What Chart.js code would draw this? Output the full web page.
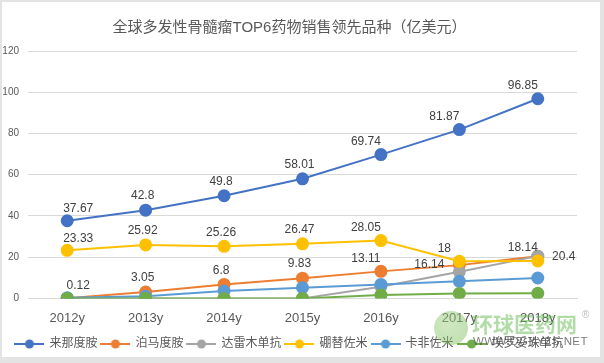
<!DOCTYPE html>
<html>
<head>
<meta charset="utf-8">
<script src="https://cdn.jsdelivr.net/npm/chart.js@4/dist/chart.umd.min.js"></script>
<style>
    html, body { margin: 0; padding: 0; background: #e3e3e3; }
    #frame {
        position: relative;
        width: 604px; height: 363px;
        box-sizing: border-box;
        border-left: 2px solid #e3e3e3;
        border-top: 2px solid #e3e3e3;
        border-right: 4px solid #e3e3e3;
        border-bottom: 6px solid #e3e3e3;
        background: #fff;
    }
    #chart { display: block; }
    .wm-globe {
        position: absolute; left: 432px; top: 309px; width: 34px; height: 34px;
        border-radius: 50%;
        background: radial-gradient(circle at 40% 40%, rgba(160,210,130,0.5), rgba(110,180,80,0.45));
    }
    .wm-cn {
        position: absolute; left: 470px; top: 306px;
        font: bold 21px 'Noto Sans CJK SC', sans-serif; color: rgba(100,185,80,0.5);
    }
    .wm-r { position: absolute; left: 580px; top: 307px; font: 10px 'Liberation Sans'; color: rgba(120,120,120,0.5); }
    .wm-url {
        position: absolute; left: 471px; top: 333px;
        font: 11.5px 'Liberation Sans', sans-serif; color: rgba(80,80,80,0.75); letter-spacing: 0.4px;
    }
</style>
</head>
<body>
<div id="frame">
    <canvas id="chart" width="598" height="355"></canvas>
    <div class="wm-globe"></div>
    <div class="wm-cn">环球医药网</div>
    <div class="wm-r">®</div>
    <div class="wm-url">WWW.QGYYZS.NET</div>
</div>
<script>
// Данные графика
const years = ['2012y', '2013y', '2014y', '2015y', '2016y', '2017y', '2018y'];
const seriesNames = ['来那度胺', '泊马度胺', '达雷木单抗', '硼替佐米', '卡非佐米', '埃罗妥珠单抗'];

const lenalidomide = [37.67, 42.8, 49.8, 58.01, 69.74, 81.87, 96.85];
const pomalidomide = [0.12, 3.05, 6.8, 9.83, 13.11, 16.14, 20.4];
const daratumumab  = [0, 0, 0, 0, 5.7, 12.9, 20.5];
const bortezomib   = [23.33, 25.92, 25.26, 26.47, 28.05, 18, 18.14];
const carfilzomib  = [0.3, 1, 3.6, 5.2, 6.8, 8.3, 9.9];
const elotuzumab   = [0, 0, 0, 0, 1.6, 2.4, 2.5];

const yTicks = [0, 20, 40, 60, 80, 100, 120];

const colors = ['#4472C4', '#ED7D31', '#A5A5A5', '#FFC000', '#5B9BD5', '#70AD47'];

// Где рисовать подписи значений (null — без подписей)
const labelPlaces = [
    ['tr', 't', 't', 't', 'tl', 'tl', 'tl'],
    ['tr', 't', 't', 't', 'tl', 'l', 'r'],
    null,
    ['tr', 't', 't', 't', 'tl', 'tl', 'tl'],
    null,
    null
];

const labelOffsets = {
    t:  [-3, -14],
    tl: [-15, -13],
    tr: [11, -12],
    l:  [-30, 0],
    r:  [26, 0]
};

const FONT = "'Liberation Sans', 'Noto Sans CJK SC', sans-serif";

function legendMarker(color) {
    const c = document.createElement('canvas');
    c.width = 30;
    c.height = 12;
    const g = c.getContext('2d');
    g.strokeStyle = color;
    g.lineWidth = 2;
    g.beginPath();
    g.moveTo(0, 6);
    g.lineTo(30, 6);
    g.stroke();
    g.fillStyle = color;
    g.beginPath();
    g.arc(15, 6, 4.5, 0, Math.PI * 2);
    g.fill();
    return c;
}

const valueLabels = {
    id: 'valueLabels',
    afterDatasetsDraw(chart) {
        const ctx = chart.ctx;
        ctx.save();
        ctx.font = '12px ' + FONT;
        ctx.fillStyle = '#404040';
        ctx.textAlign = 'center';
        ctx.textBaseline = 'middle';
        chart.data.datasets.forEach((ds, i) => {
            const places = labelPlaces[i];
            if (!places) return;
            const meta = chart.getDatasetMeta(i);
            meta.data.forEach((pt, j) => {
                const off = labelOffsets[places[j]];
                ctx.fillText(String(ds.data[j]), pt.x + off[0], pt.y + off[1]);
            });
        });
        ctx.restore();
    }
};

const allSeries = [lenalidomide, pomalidomide, daratumumab, bortezomib, carfilzomib, elotuzumab];

const datasets = allSeries.map((values, i) => ({
    label: seriesNames[i],
    data: values,
    borderColor: colors[i],
    backgroundColor: colors[i],
    pointBackgroundColor: colors[i],
    pointBorderColor: colors[i],
    borderWidth: 2,
    pointRadius: 5.5,
    pointHoverRadius: 5.5,
    tension: 0,
    order: allSeries.length - i
}));

new Chart(document.getElementById('chart'), {
    type: 'line',
    data: { labels: years, datasets: datasets },
    plugins: [valueLabels],
    options: {
        responsive: false,
        animation: false,
        layout: { padding: { left: 0, right: 23, top: 0, bottom: -3 } },
        plugins: {
            title: {
                display: true,
                text: '全球多发性骨髓瘤TOP6药物销售领先品种（亿美元）',
                color: '#595959',
                font: { family: FONT, size: 15, weight: 'normal' },
                padding: { top: 17, bottom: 14 }
            },
            legend: {
                position: 'bottom',
                labels: {
                    usePointStyle: true,
                    pointStyleWidth: 28,
                    boxHeight: 12,
                    padding: 4,
                    color: '#595959',
                    font: { family: FONT, size: 12 },
                    generateLabels(chart) {
                        return chart.data.datasets.map((ds, i) => ({
                            text: ds.label,
                            pointStyle: legendMarker(colors[i]),
                            fillStyle: colors[i],
                            strokeStyle: colors[i],
                            lineWidth: 0,
                            fontColor: '#595959',
                            datasetIndex: i
                        }));
                    }
                }
            },
            tooltip: { enabled: false }
        },
        scales: {
            x: {
                offset: true,
                afterFit(scale) {
                    scale.height += 4;
                },
                grid: { display: false },
                border: { display: true, color: '#d9d9d9' },
                ticks: { color: '#595959', font: { family: FONT, size: 13 }, padding: 4 }
            },
            y: {
                min: 0,
                max: 120,
                afterBuildTicks(scale) {
                    scale.ticks = yTicks.map(v => ({ value: v }));
                },
                afterFit(scale) {
                    scale.width = 26;
                },
                grid: { color: '#d9d9d9', drawTicks: false },
                border: { display: false },
                ticks: { color: '#595959', font: { family: FONT, size: 10 }, padding: 9 }
            }
        }
    }
});
</script>
</body>
</html>
